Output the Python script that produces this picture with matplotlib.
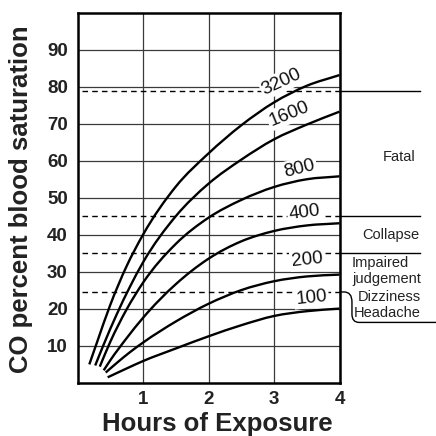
import matplotlib
matplotlib.use("Agg")
import matplotlib.pyplot as plt
from matplotlib.path import Path
from matplotlib.patches import PathPatch

plt.rcParams['font.family'] = ['Liberation Sans', 'DejaVu Sans']

# ---- data ----
hours_3200 = [0.18, 0.3, 0.5, 0.75, 1.0, 1.5, 2.0, 2.5, 3.0, 3.5, 4.0]
sat_3200 = [4.9, 11.0, 21.0, 31.5, 40.0, 53.0, 62.0, 69.6, 75.8, 80.3, 83.2]

hours_1600 = [0.27, 0.4, 0.6, 0.8, 1.0, 1.5, 2.0, 2.5, 3.0, 3.5, 4.0]
sat_1600 = [4.6, 10.3, 18.5, 25.9, 32.5, 45.0, 53.8, 60.3, 65.8, 69.8, 73.3]

hours_800 = [0.34, 0.5, 0.75, 1.0, 1.5, 2.0, 2.5, 3.0, 3.5, 4.0]
sat_800 = [4.3, 11.0, 19.8, 27.0, 37.5, 44.6, 49.4, 52.9, 55.0, 55.8]

hours_400 = [0.40, 0.5, 0.75, 1.0, 1.5, 2.0, 2.5, 3.0, 3.5, 4.0]
sat_400 = [3.3, 6.0, 12.0, 17.5, 26.6, 33.5, 38.2, 41.0, 42.5, 43.1]

hours_200 = [0.43, 0.6, 0.8, 1.0, 1.5, 2.0, 2.5, 3.0, 3.5, 4.0]
sat_200 = [2.7, 5.3, 8.2, 10.8, 16.5, 21.3, 25.0, 27.4, 28.7, 29.2]

hours_100 = [0.46, 0.75, 1.0, 1.5, 2.0, 2.5, 3.0, 3.5, 4.0]
sat_100 = [1.4, 3.8, 5.8, 9.2, 12.5, 15.5, 18.0, 19.3, 20.0]

curve_labels = ["3200", "1600", "800", "400", "200", "100"]

threshold_levels = [79, 45, 35, 24.5]
symptom_labels = ["Fatal", "Collapse", "Impaired\njudgement", "Dizziness\nHeadache"]

x_ticks = [1, 2, 3, 4]
y_ticks = [10, 20, 30, 40, 50, 60, 70, 80, 90]


def smooth_path(xs, ys):
    """Bezier path through the read points (Hermite tangents from neighbours)."""
    n = len(xs)
    m = []
    for i in range(n):
        if i == 0:
            m.append((ys[1] - ys[0]) / (xs[1] - xs[0]))
        elif i == n - 1:
            m.append((ys[-1] - ys[-2]) / (xs[-1] - xs[-2]))
        else:
            d0 = (ys[i] - ys[i - 1]) / (xs[i] - xs[i - 1])
            d1 = (ys[i + 1] - ys[i]) / (xs[i + 1] - xs[i])
            w0 = xs[i + 1] - xs[i]
            w1 = xs[i] - xs[i - 1]
            m.append((w0 * d0 + w1 * d1) / (w0 + w1))
    verts = [(xs[0], ys[0])]
    codes = [Path.MOVETO]
    for i in range(n - 1):
        dx = xs[i + 1] - xs[i]
        verts += [(xs[i] + dx / 3, ys[i] + m[i] * dx / 3),
                  (xs[i + 1] - dx / 3, ys[i + 1] - m[i + 1] * dx / 3),
                  (xs[i + 1], ys[i + 1])]
        codes += [Path.CURVE4] * 3
    return Path(verts, codes)


# ---- figure ----
fig = plt.figure(figsize=(4.36, 4.36), dpi=100)
ax = fig.add_axes([0.1778, 0.1227, 0.6009, 0.8475])
ax.set_xlim(0, 4)
ax.set_ylim(0, 100)

ax.set_xticks(x_ticks)
ax.set_yticks(y_ticks)
ax.set_xticklabels([str(v) for v in x_ticks], fontsize=13.5, fontweight='bold')
ax.set_yticklabels([str(v) for v in y_ticks], fontsize=13.5, fontweight='bold')
ax.tick_params(axis='both', length=0, colors='#222222')
ax.tick_params(axis='y', pad=7)
ax.tick_params(axis='x', pad=6)

ax.grid(True, color='#3a3a3a', lw=0.9, zorder=1)
ax.set_axisbelow(True)
for s in ax.spines.values():
    s.set_linewidth(1.8)
    s.set_color('black')
    s.set_zorder(6)

# dashed thresholds
for lvl in threshold_levels:
    ax.plot([0.07, 4.0], [lvl, lvl], color='black', lw=1.0, ls=(0, (4, 3)), zorder=2)

# curves
series = [(hours_3200, sat_3200), (hours_1600, sat_1600), (hours_800, sat_800),
          (hours_400, sat_400), (hours_200, sat_200), (hours_100, sat_100)]
for h, s in series:
    ax.add_patch(PathPatch(smooth_path(h, s), fill=False, ec='black', lw=1.7,
                           capstyle='butt', zorder=4))

# curve labels
label_pos = [(3.12, 81.4, 25), (3.23, 72.8, 22), (3.39, 57.9, 14),
             (3.47, 45.9, 7), (3.51, 33.2, 6), (3.57, 23.0, 6)]
for txt, (lx, ly, rot) in zip(curve_labels, label_pos):
    ax.text(lx, ly, txt, fontsize=13.5, rotation=rot,
            ha='center', va='center', color='#111111', zorder=3,
            bbox=dict(boxstyle='square,pad=0.1', fc='white', ec='none'),
            rotation_mode='anchor')

# right side separator lines
for lvl in threshold_levels[:3]:
    ax.plot([4.0, 5.23], [lvl, lvl], color='black', lw=1.0, clip_on=False, zorder=5)

verts = [(4.0, 24.5), (4.07, 24.5), (4.19, 24.5), (4.19, 21.8),
         (4.19, 18.5), (4.19, 16.26), (4.3, 16.26), (5.6, 16.26)]
codes = [Path.MOVETO, Path.LINETO, Path.CURVE3, Path.CURVE3,
         Path.LINETO, Path.CURVE3, Path.CURVE3, Path.LINETO]
ax.add_patch(PathPatch(Path(verts, codes), fill=False, lw=1.0, ec='black',
                       clip_on=False, zorder=5))

# symptom texts
ax.text(4.908, 61.1, symptom_labels[0], fontsize=10.5, ha='center', va='center',
        color='#222222', clip_on=False)
ax.text(4.786, 40.0, symptom_labels[1], fontsize=10.5, ha='center', va='center',
        color='#222222', clip_on=False)
ax.text(4.191, 30.2, symptom_labels[2], fontsize=10.5, ha='left', va='center',
        color='#222222', clip_on=False, linespacing=1.15)
ax.text(5.237, 20.9, symptom_labels[3], fontsize=10.5, ha='right', va='center',
        color='#222222', clip_on=False, linespacing=1.2, multialignment='right')

# axis titles
fig.text(0.048, 0.5436, "CO percent blood saturation", rotation=90, fontsize=18.5,
         fontweight='bold', ha='center', va='center', color='#222222')
fig.text(0.499, 0.0275, "Hours of Exposure", fontsize=18.5, fontweight='bold',
         ha='center', va='center', color='#222222')

fig.savefig("out.png", dpi=100)
